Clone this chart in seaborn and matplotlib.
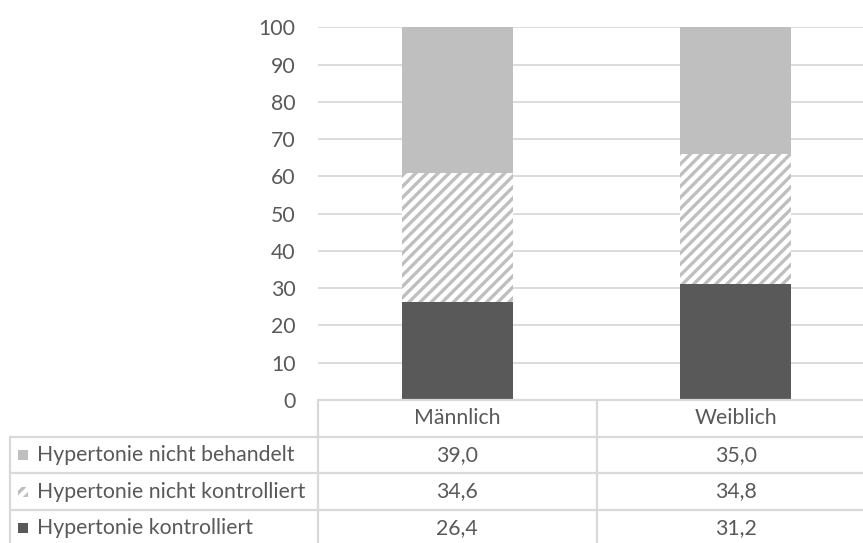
import matplotlib
matplotlib.use('Agg')
import matplotlib.pyplot as plt
import matplotlib.transforms as mtransforms
from matplotlib.patches import Rectangle
import seaborn as sns

# Daten
geschlecht = ['Männlich', 'Weiblich']
kontrolliert = [26.4, 31.2]
nicht_kontrolliert = [34.6, 34.8]
nicht_behandelt = [39.0, 35.0]

reihen = ['Hypertonie nicht behandelt', 'Hypertonie nicht kontrolliert', 'Hypertonie kontrolliert']
werte = [nicht_behandelt, nicht_kontrolliert, kontrolliert]

dunkel = '#595959'
hell = '#bfbfbf'
linie = '#d9d9d9'
text_farbe = '#595959'

sns.set_style('white')
plt.rcParams['font.family'] = ['Lato', 'DejaVu Sans']
plt.rcParams['hatch.linewidth'] = 2.4

W, H = 863, 543
fig = plt.figure(figsize=(W / 100, H / 100), dpi=100)

# Diagrammbereich (rechts leicht abgeschnitten wie im Original)
ax = fig.add_axes([318 / W, 1 - 400 / H, 557 / W, (400 - 27.3) / H])

unten2 = [a + b for a, b in zip(kontrolliert, nicht_kontrolliert)]
sns.barplot(x=geschlecht, y=kontrolliert, color=dunkel, width=0.4, ax=ax,
            linewidth=0, saturation=1)
sns.barplot(x=geschlecht, y=nicht_kontrolliert, bottom=kontrolliert, color='white',
            width=0.4, ax=ax, hatch='///', edgecolor=hell, linewidth=0, saturation=1)
sns.barplot(x=geschlecht, y=nicht_behandelt, bottom=unten2, color=hell, width=0.4,
            ax=ax, linewidth=0, saturation=1)

ax.set_xlim(-0.5, 1.5)
ax.set_ylim(0, 100)
ax.set_yticks(range(0, 101, 10))
ax.yaxis.grid(True, color=linie, linewidth=1.3)
ax.set_axisbelow(True)
fs = 15.3
ax.tick_params(axis='y', length=0, pad=16, labelsize=fs, labelcolor=text_farbe)
ax.tick_params(axis='x', length=0, labelbottom=False)
ax.set_xlabel('')
ax.set_ylabel('')
for s in ax.spines.values():
    s.set_visible(False)

# Datentabelle unter dem Diagramm
tab = fig.add_axes([0, 0, 1, 1], facecolor='none')
tab.set_xlim(0, W)
tab.set_ylim(H, 0)
tab.axis('off')
mix = mtransforms.blended_transform_factory(ax.transData, tab.transData)

zeilen_y = [400, 436.5, 473, 510]
lw = 1.6
tab.plot([-0.5, 1.5], [zeilen_y[0]] * 2, color=linie, lw=lw, transform=mix, clip_on=False)
for y in zeilen_y[1:]:
    tab.plot([10, W + 20], [y, y], color=linie, lw=lw, clip_on=False)
tab.plot([10, 10], [zeilen_y[1], H + 5], color=linie, lw=lw)
for xg in [-0.5, 0.5, 1.5]:
    tab.plot([xg, xg], [zeilen_y[0], H + 5], color=linie, lw=lw, transform=mix, clip_on=False)

for i, name in enumerate(geschlecht):
    tab.text(i, (zeilen_y[0] + zeilen_y[1]) / 2, name, transform=mix, ha='center',
             va='center', fontsize=fs, color=text_farbe)

farben = [hell, 'white', dunkel]
for r, (name, vals) in enumerate(zip(reihen, werte)):
    yc = (zeilen_y[r + 1] + (zeilen_y[r + 2] if r + 2 < len(zeilen_y) else 546.5)) / 2
    sq = Rectangle((17.5, yc - 5), 10, 10, facecolor=farben[r], edgecolor=hell if r == 1 else 'none',
                   linewidth=0, hatch='///' if r == 1 else None)
    tab.add_patch(sq)
    tab.text(37, yc, name, ha='left', va='center', fontsize=fs, color=text_farbe)
    for i, v in enumerate(vals):
        tab.text(i, yc, f'{v:.1f}'.replace('.', ','), transform=mix, ha='center',
                 va='center', fontsize=fs, color=text_farbe)

fig.savefig('out.png', dpi=100)
